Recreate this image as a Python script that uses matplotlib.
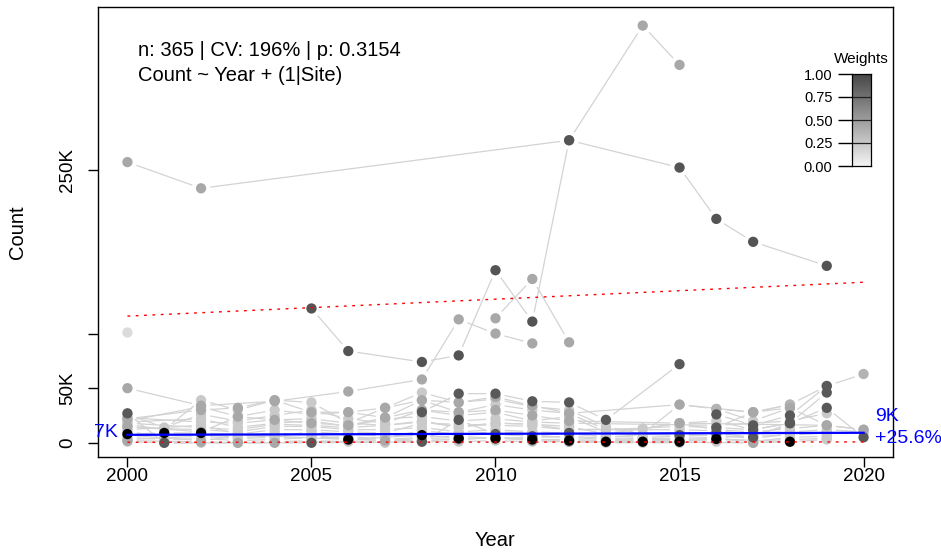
import numpy as np
import matplotlib
matplotlib.use("Agg")
import matplotlib.pyplot as plt
from matplotlib.colors import LinearSegmentedColormap

plt.rcParams['font.family'] = ['Liberation Sans', 'DejaVu Sans']

na = np.nan
years = list(range(2000, 2021))

# counts per site in thousands, one value per year 2000..2020
site_a = [257, na, 233, na, na, na, na, na, na, na, na, na, 277, na, 382, 346, na, na, na, na, na]
site_b = [na, na, na, na, na, 123, 84, na, 74, 80, 158, 111, 277, na, na, 252, 205, 184, na, 162, na]
site_c = [na, na, na, na, na, na, na, na, na, na, 114, 150, 92, na, na, na, na, na, na, na, na]
site_d = [50, na, 34, na, 38, na, 47, na, 58, 113, 100, 91, na, na, na, na, na, na, na, na, na]
site_e = [101, na, na, na, na, na, na, na, na, na, na, na, na, na, na, na, na, na, na, na, na]
site_f = [na, na, na, na, na, na, na, na, 28, 45, 45, 38, 37, 21, na, 72, na, na, na, na, na]
site_g = [na, na, na, na, na, na, na, na, na, na, na, na, na, na, na, na, 31, 28, 35, 52, 63]
site_h = [8, 9, 9, na, na, na, 3, na, 7, 4, 4, 3, 2, 1, 1, 1, 3.5, na, 1, na, na]
site_i = [27, 0, na, na, na, 0, na, na, 1, 21, 8, 6, 9, na, na, 7, 9, 5, 18, 32, 5]
site_j = [na, na, na, na, na, na, na, na, na, na, na, na, na, na, na, na, 14, 12, 18, 46, na]
site_k = [na, na, na, na, na, na, na, na, na, na, na, na, na, na, na, na, 26, 16, 25, 52, na]
bg_01 = [23, na, 19, 18, 21, 22, 18, 16, 20, 14, 18, 17, 15, 8, na, 18, 12, 10, 13, 16, 12]
bg_02 = [20, na, 33, 24, 30, 26, 28, 23, 39, 28, 35, 30, 27, 12, na, 15, 14, 28, 35, na, na]
bg_03 = [17, 12, 39, 30, 39, 37, 18, 32, 46, 37, 40, 33, 30, 15, 8, 35, 31, 20, 32, 16, na]
bg_04 = [14, na, 12, 10, 15, 15, 12, 12, 14, 10, 12, 10, 9, 5, na, 10, 8, 9, 10, 12, 10]
bg_05 = [10, 6, 8, 5, 6, 10, 8, 6, 9, 7, 8, 6, 5, 3, 4, 4, 5, 6, 7, 9, 9]
bg_06 = [1, 0, 0, 0, 1, 2, 1, 0, 1, 1, 2, 1, 1, 0, 0, 0, 1, 0, 1, 3, na]
bg_07 = [26, 14, 26, 20, 25, 30, 22, 18, 30, 25, 28, 20, 24, 10, 13, 18, 20, 12, 18, na, na]
bg_08 = [5, 3, 4, 2, 3, 5, 4, 2, 4, 3, 5, 3, 3, 2, 2, 2, 3, 2, 3, 4, na]
bg_09 = [19, na, 22, 14, 18, 20, 15, 22, 24, 20, 22, 19, 18, na, na, na, 16, na, 20, 27, na]
bg_10 = [12, na, 16, 8, 12, 12, 10, 9, 18, 17, 16, 15, 12, na, na, 12, 11, 8, 15, na, na]
bg_11 = [3, na, 6, 4, 5, 4, 6, 3, 5, 6, 4, 5, 6, 4, 3, 3, 4, 1, 5, 6, na]
bg_12 = [7, na, 2, 6, 9, 7, 3, 5, 11, 8, 10, 9, 8, 6, 5, 6, 7, 4, 8, 10, na]
mid_01 = [22, na, 30, 32, 39, 28, 28, 32, 39, 37, 42, 34, 27, na, na, 35, na, 28, 32, na, na]
mid_02 = [15, na, 10, 24, 21, 18, 16, 23, 30, 28, 30, 25, 20, na, na, 18, na, na, na, 16, 12]
mid_03 = [2, na, 1, 0, 0, na, na, 2, 2, 3, 5, 2, 1, na, na, na, na, 0, na, na, na]
pale_01 = [18, na, 14, 12, 17, 16, 14, 16, 19, 15, 18, 17, 12, na, 13, na, na, na, na, na, na]

sites = [site_a, site_b, site_c, site_d, site_e, site_f, site_g, site_h, site_i, site_j, site_k,
         bg_01, bg_02, bg_03, bg_04, bg_05, bg_06, bg_07, bg_08, bg_09, bg_10, bg_11, bg_12,
         mid_01, mid_02, mid_03, pale_01]
site_weights = [0.34, 0.67, 0.34, 0.34, 0.14, 0.65, 0.3, 1.0, 0.65, 0.65, 0.65,
                0.21, 0.21, 0.21, 0.21, 0.21, 0.21, 0.21, 0.21, 0.21, 0.21, 0.21, 0.21,
                0.34, 0.34, 0.34, 0.12]

# fitted trend and interval (thousands)
fit_years = [2000, 2020]
fit_counts = [7.3, 9.17]
upper_counts = [116, 147]
lower_counts = [0.5, 0.8]

y_ticks = [0, 50, 100, 250]
y_labels = ['0', '50K', '', '250K']
x_ticks = [2000, 2005, 2010, 2015, 2020]
weight_ticks = [0.0, 0.25, 0.5, 0.75, 1.0]

fig = plt.figure(figsize=(9.41, 5.52), dpi=100)
ax = fig.add_axes([98 / 941, 1 - 457 / 552, 795 / 941, 450 / 552])
ax.set_xlim(1999.2, 2020.8)
ax.set_ylim(-13, 399)

# connecting lines with gaps at points
xs, ys, ws = [], [], []
for row, w in zip(sites, site_weights):
    pts = [(yr, v) for yr, v in zip(years, row) if not np.isnan(v)]
    for (x0, y0), (x1, y1) in zip(pts[:-1], pts[1:]):
        ax.annotate('', xy=(x1, y1), xytext=(x0, y0),
                    arrowprops=dict(arrowstyle='-', color='#d3d3d3', lw=0.9,
                                    shrinkA=7, shrinkB=7), zorder=1)
    for yr, v in pts:
        xs.append(yr)
        ys.append(v)
        ws.append(w)

# opaque grey shade by weight, darker drawn on top
order = np.argsort(ws, kind='stable')
xs = np.array(xs)[order]
ys = np.array(ys)[order]
ws = np.array(ws)[order]
shade = 1 - ws
cols = np.column_stack([shade, shade, shade, np.ones(len(ws))])
ax.scatter(xs, ys, s=55, c=cols, edgecolors='none', zorder=2)

ax.plot(fit_years, upper_counts, color='red', lw=1, dashes=(2, 4), zorder=3)
ax.plot(fit_years, lower_counts, color='red', lw=1, dashes=(2, 4), zorder=3)
ax.plot(fit_years, fit_counts, color='blue', lw=1.6, zorder=4)

ax.annotate('7K', xy=(fit_years[0], fit_counts[0]), xytext=(-7, 1.4), textcoords='offset points',
            ha='right', va='center', color='blue', fontsize=14)
ax.annotate('9K', xy=(fit_years[1], fit_counts[1]), xytext=(8.6, 12), textcoords='offset points',
            ha='left', va='center', color='blue', fontsize=14, annotation_clip=False)
ax.annotate('+25.6%', xy=(fit_years[1], fit_counts[1]), xytext=(8.6, -4.3), textcoords='offset points',
            ha='left', va='center', color='blue', fontsize=14, annotation_clip=False)

ax.text(0.0503, 0.904, 'n: 365 | CV: 196% | p: 0.3154', transform=ax.transAxes,
        ha='left', va='center', fontsize=14.5)
ax.text(0.0503, 0.848, 'Count ~ Year + (1|Site)', transform=ax.transAxes,
        ha='left', va='center', fontsize=14.5)

ax.set_xticks(x_ticks)
ax.set_yticks(y_ticks)
ax.set_yticklabels(y_labels, rotation=90, va='center')
ax.tick_params(axis='both', direction='out', length=7, width=1, labelsize=13.5)
ax.tick_params(axis='y', pad=9)
ax.tick_params(axis='x', pad=1)
for sp in ax.spines.values():
    sp.set_linewidth(1)

fig.text(495 / 941, 1 - 540 / 552, 'Year', ha='center', va='center', fontsize=14.5)
fig.text(18 / 941, 1 - 232 / 552, 'Count', ha='center', va='center', rotation=90, fontsize=14.5)

# weights legend
cax = fig.add_axes([852 / 941, 1 - 166 / 552, 19 / 941, 92 / 552])
cmap = LinearSegmentedColormap.from_list('w', ['#f4f4f4', '#474747'])
grad = np.linspace(0, 1, 256).reshape(-1, 1)
cax.imshow(grad, cmap=cmap, origin='lower', extent=[0, 1, 0, 1], aspect='auto')
cax.set_xticks([])
cax.set_yticks(weight_ticks)
cax.set_yticklabels(['%.2f' % t for t in weight_ticks])
cax.tick_params(axis='y', length=10, width=1, pad=4, labelsize=10.5)
for t in weight_ticks[1:-1]:
    cax.axhline(t, color='#222222', lw=0.9)
for sp in cax.spines.values():
    sp.set_linewidth(0.9)
cax.set_title('Weights', fontsize=11, pad=8)

fig.savefig('out.png', dpi=100)
